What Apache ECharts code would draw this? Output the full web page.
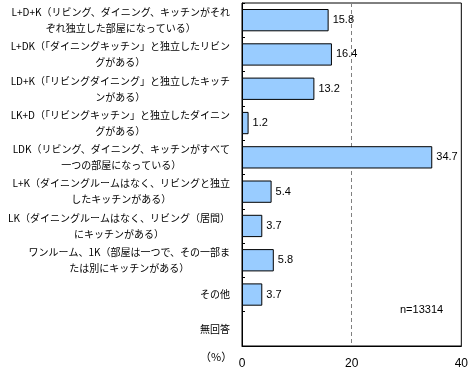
<!DOCTYPE html>
<html><head><meta charset="utf-8">
<script src="https://cdn.jsdelivr.net/npm/echarts@6/dist/echarts.min.js"></script>
<style>html,body{margin:0;padding:0;background:#fff}#c{width:471px;height:372px}</style>
</head><body><div id="c"></div>
<script>
const categories = [
  ["L+D+K（リビング、ダイニング、キッチンがそれ", "ぞれ独立した部屋になっている）"],
  ["L+DK（「ダイニングキッチン」と独立したリビン", "グがある）"],
  ["LD+K（「リビングダイニング」と独立したキッチ", "ンがある）"],
  ["LK+D（「リビングキッチン」と独立したダイニン", "グがある）"],
  ["LDK（リビング、ダイニング、キッチンがすべて", "一つの部屋になっている）"],
  ["L+K（ダイニングルームはなく、リビングと独立", "したキッチンがある）"],
  ["LK（ダイニングルームはなく、リビング（居間）", "にキッチンがある）"],
  ["ワンルーム、1K（部屋は一つで、その一部ま", "たは別にキッチンがある）"],
  ["その他"],
  ["無回答"]
];
const values = [15.8, 16.4, 13.2, 1.2, 34.7, 5.4, 3.7, 5.8, 3.7, null];
const xTicks = [0, 20, 40];
const unitLabel = "（%）";
const noteLabel = "n=13314";

const chart = echarts.init(document.getElementById('c'), null, {renderer: 'canvas'});
const jp = '"Noto Sans CJK JP", sans-serif';
chart.setOption({
  animation: false,
  grid: {left: 242, right: 7, top: 3, bottom: 26, show: true, borderColor: '#000', borderWidth: 1, backgroundColor: 'transparent'},
  xAxis: {
    type: 'value', min: xTicks[0], max: xTicks[xTicks.length - 1], interval: 20,
    axisLine: {show: true, lineStyle: {color: '#000', width: 1}},
    axisTick: {show: false},
    axisLabel: {color: '#000', fontFamily: 'Liberation Sans, Arial, sans-serif', fontSize: 12, margin: 12},
    splitLine: {show: true, showMinLine: false, showMaxLine: false, lineStyle: {color: '#808080', type: [4, 3], width: 1}}
  },
  yAxis: {
    type: 'category', inverse: true,
    data: categories.map((c, i) => 'c' + i),
    axisLine: {show: true, lineStyle: {color: '#000'}},
    axisTick: {show: true, inside: true, length: 3, lineStyle: {color: '#000'}},
    axisLabel: {
      align: 'right', margin: 12, color: '#000', fontFamily: jp, fontSize: 10, lineHeight: 16,
      formatter: function (v) {
        const lines = categories[+v.slice(1)];
        if (lines.length === 1) return '{r|' + lines[0] + '}';
        return lines.map(l => '{c|' + l + '}').join('\n');
      },
      rich: {
        c: {align: 'center', fontFamily: jp, fontSize: 10, lineHeight: 16, color: '#000'},
        r: {align: 'right', fontFamily: jp, fontSize: 10, lineHeight: 16, color: '#000'}
      }
    }
  },
  series: [{
    type: 'bar', data: values, barCategoryGap: '35%',
    itemStyle: {color: '#99CCFF', borderColor: '#000', borderWidth: 1},
    label: {show: true, position: 'right', distance: 4, color: '#000', fontFamily: 'Liberation Sans, Arial, sans-serif', fontSize: 11,
      formatter: p => p.value == null ? '' : p.value.toFixed(1)}
  }],
  graphic: [
    {type: 'text', left: 200, top: 351, style: {text: unitLabel, font: '11px "Noto Sans CJK JP"', fill: '#000'}},
    {type: 'text', left: 400, top: 304, style: {text: noteLabel, font: '11px "Liberation Sans", Arial', fill: '#000'}}
  ]
});
</script></body></html>
